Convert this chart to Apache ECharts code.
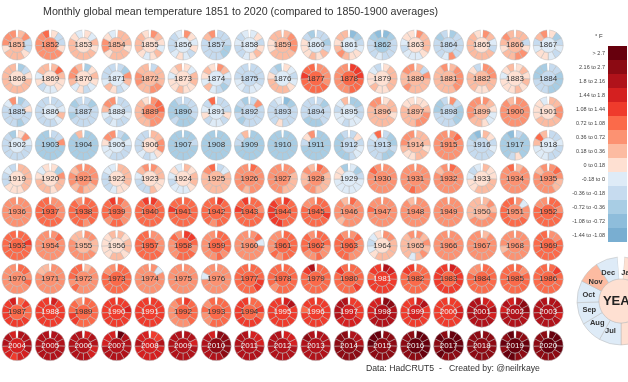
<!DOCTYPE html>
<html><head><meta charset="utf-8">
<script src="https://cdn.jsdelivr.net/npm/echarts@6/dist/echarts.min.js"></script>
<style>html,body{margin:0;padding:0;background:#fff}#c{width:628px;height:382px}</style>
</head><body><div id="c"></div>
<script>
const firstYear = 1851;
const monthNames = ['Jan','Feb','Mar','Apr','May','Jun','Jul','Aug','Sep','Oct','Nov','Dec'];
// bin lower edges (°F) and legend
const binEdges = [-1.44,-1.08,-0.72,-0.36,-0.18,0,0.18,0.36,0.72,1.08,1.44,1.8,2.16,2.7];
const binLabels = ['-1.44 to -1.08','-1.08 to -0.72','-0.72 to -0.36','-0.36 to -0.18','-0.18 to 0','0 to 0.18','0.18 to 0.36','0.36 to 0.72','0.72 to 1.08','1.08 to 1.44','1.44 to 1.8','1.8 to 2.16','2.16 to 2.7','> 2.7'];
const binColors = ['#79aed1','#8ebddb','#a8cde4','#c6dbef','#deebf7','#fee0d2','#fcbba1','#fc9272','#fb6a4a','#ef3b2c','#d42020','#b0121a','#8c0a13','#67000d'];

// monthly anomalies (°F vs 1850-1900), Jan..Dec, one row per year 1851..2020
const monthly = [
[0.3,0.6,-0.3,-0.2,0.1,0.2,0.2,0.3,0.1,0.5,0.5,0.4],
[0.1,-0.2,-0.3,0.1,0.5,0.6,0.6,0.6,0.5,0.4,0.5,1.0],
[0.1,-0.1,0.2,0.1,0.3,0.2,0.3,0.2,0.2,0.3,0.1,-0.1],
[0.2,0.3,0.2,0.1,0.3,0.2,0.2,0.1,0.5,0.4,0.1,-0.1],
[0.6,0.2,0.1,-0.1,0.2,0.1,-0.1,0.1,0.2,0.3,0.2,0.1],
[0.5,0.1,-0.1,0.1,-0.2,-0.1,0.1,-0.1,-0.3,-0.3,-0.2,-0.1],
[-0.3,-0.2,-0.3,-0.6,-0.6,-0.3,-0.3,-0.3,-0.3,-0.2,0.2,0.5],
[-0.1,0.1,-0.2,0.1,0.2,0.1,-0.1,-0.2,-0.2,-0.1,-0.2,-0.1],
[0.3,0.5,0.6,0.6,0.3,0.2,0.3,0.2,0.1,0.1,0.2,0.3],
[-0.3,-0.2,-0.6,-0.2,0.2,0.1,0.2,0.1,0.1,0.1,-0.3,-0.5],
[-0.8,-0.5,-0.2,-0.1,0.1,0.1,0.2,0.5,0.2,0.1,0.2,0.3],
[-0.8,-0.6,-0.3,-0.2,-0.3,-0.2,-0.1,-0.2,-0.3,-0.3,-0.5,-0.8],
[0.5,0.2,0.3,0.2,0.1,-0.1,-0.1,-0.1,-0.2,-0.1,0.1,0.1],
[-0.6,-0.3,-0.2,-0.3,-0.2,0.5,-0.1,-0.2,-0.3,-0.3,-0.5,-0.3],
[0.6,0.3,-0.1,-0.3,0.2,0.2,0.3,0.2,0.2,0.3,0.3,0.1],
[0.3,0.2,-0.3,0.1,0.5,0.5,0.2,0.2,0.1,0.2,0.6,0.3],
[0.1,-0.5,-0.3,-0.1,-0.2,-0.1,0.1,0.1,-0.1,-0.2,0.3,0.5],
[-0.6,-0.3,0.1,0.2,0.3,0.3,0.3,0.2,0.2,0.2,0.2,0.3],
[0.3,0.9,0.3,0.1,0.1,-0.1,-0.1,-0.2,0.1,-0.1,0.3,0.3],
[-0.5,0.1,0.2,0.1,-0.1,-0.2,0.1,-0.1,0.2,0.5,0.5,0.3],
[-0.3,-0.5,0.6,0.3,-0.1,-0.2,0.1,0.2,-0.1,-0.2,-0.3,-0.3],
[-0.3,0.2,0.3,0.3,0.5,0.6,0.2,0.3,0.5,0.4,0.2,0.2],
[0.1,-0.1,0.2,0.3,0.1,0.1,0.2,0.1,0.1,-0.1,0.1,0.2],
[0.5,0.2,-0.1,-0.2,-0.5,-0.3,-0.1,0.2,-0.1,0.1,0.2,0.1],
[-0.3,-0.3,-0.2,-0.2,-0.1,-0.1,-0.2,-0.1,-0.1,-0.2,-0.3,-0.3],
[0.1,-0.1,-0.2,-0.1,0.1,0.2,0.3,0.2,0.2,0.1,-0.3,-0.5],
[0.6,0.5,0.6,0.7,0.9,1.0,1.0,1.0,1.0,1.1,0.9,1.0],
[1.3,1.3,1.1,0.9,0.9,0.8,0.7,0.7,0.6,0.6,0.5,0.5],
[0.1,0.2,0.3,0.2,0.2,0.1,0.1,0.2,0.1,0.1,-0.1,-0.2],
[0.3,-0.2,0.6,0.3,0.3,0.2,0.3,0.4,0.3,0.3,0.5,0.5],
[0.3,0.4,0.6,0.7,0.6,0.3,0.3,0.3,0.2,0.3,0.2,0.4],
[0.7,0.6,0.4,0.2,0.2,0.1,0.1,0.3,0.2,0.2,0.1,-0.3],
[0.1,0.2,0.1,0.2,0.1,0.2,0.1,0.1,0.1,-0.1,0.1,0.2],
[-0.2,-0.3,-0.5,-0.5,-0.6,-0.5,-0.3,-0.3,-0.3,-0.4,-0.6,-0.5],
[-0.6,-0.3,0.1,-0.3,-0.3,-0.5,-0.3,-0.3,-0.3,-0.2,-0.1,0.6],
[-0.3,-0.2,-0.1,0.2,-0.1,-0.2,-0.3,-0.3,-0.2,-0.2,-0.3,-0.2],
[-0.3,-0.6,-0.3,-0.2,-0.2,-0.3,-0.3,-0.3,-0.4,-0.3,-0.5,-0.3],
[-0.2,-0.3,-0.3,-0.1,-0.2,-0.3,-0.1,-0.2,-0.1,0.2,0.5,0.5],
[0.5,1.0,0.8,0.7,0.6,0.4,0.2,0.3,0.2,0.3,0.2,0.1],
[-0.2,-0.3,-0.3,-0.3,-0.5,-0.5,-0.4,-0.3,-0.4,-0.6,-0.6,-0.3],
[-0.3,-0.3,-0.3,0.1,-0.2,-0.1,-0.1,-0.2,0.1,-0.1,-0.3,0.8],
[-0.3,0.5,-0.3,-0.2,-0.3,-0.3,-0.3,-0.4,-0.3,-0.4,-0.3,-0.6],
[-0.9,-0.6,-0.3,-0.3,-0.2,-0.3,0.1,-0.2,-0.3,-0.2,-0.2,-0.1],
[-0.3,-0.4,-0.3,-0.3,-0.3,-0.4,-0.4,-0.4,-0.3,-0.3,-0.3,-0.3],
[-0.5,-0.4,-0.2,-0.2,-0.1,-0.1,-0.2,-0.1,-0.1,-0.2,-0.1,0.2],
[0.1,0.2,0.2,0.1,0.2,0.2,0.2,0.3,0.3,0.3,0.5,0.6],
[0.1,0.1,0.2,0.5,0.7,0.5,0.3,0.2,0.2,0.2,0.1,0.1],
[0.6,-0.2,-0.6,-0.5,-0.4,-0.3,-0.3,-0.3,-0.3,-0.4,-0.5,-0.3],
[0.5,0.2,0.1,-0.1,-0.1,0.1,0.2,0.3,0.5,0.6,0.7,0.5],
[0.4,0.6,0.6,0.5,0.5,0.5,0.4,0.4,0.5,0.6,0.5,0.3],
[0.3,0.2,0.6,0.4,0.3,0.2,0.3,0.2,0.1,0.1,0.1,-0.1],
[0.1,0.5,-0.1,-0.2,-0.3,-0.2,-0.2,-0.3,-0.3,-0.2,-0.3,-0.5],
[-0.2,-0.3,0.5,-0.5,-0.6,-0.6,-0.5,-0.6,-0.6,-0.6,-0.7,-0.7],
[-0.6,-0.5,-0.6,-0.6,-0.6,-0.7,-0.7,-0.7,-0.6,-0.5,-0.5,0.2],
[-0.2,-0.5,-0.1,-0.3,-0.2,-0.3,-0.2,-0.1,-0.1,0.1,0.4,0.5],
[0.2,0.3,0.7,0.7,0.1,-0.1,-0.2,-0.1,-0.3,-0.3,-0.3,-0.2],
[-0.5,-0.6,-0.3,-0.5,-0.5,-0.4,-0.4,-0.5,-0.4,-0.5,-0.6,-0.4],
[-0.4,-0.5,-0.6,-0.5,-0.6,-0.5,-0.5,-0.5,-0.4,-0.5,-0.5,-0.5],
[-0.5,-0.4,-0.6,-0.6,-0.5,-0.5,-0.5,-0.4,-0.5,-0.3,-0.2,0.2],
[-0.4,-0.5,-0.5,-0.4,-0.5,-0.5,-0.5,-0.5,-0.5,-0.5,-0.6,-0.7],
[-0.6,-0.5,-0.6,-0.7,-0.6,-0.5,-0.5,-0.5,-0.4,-0.2,0.1,0.5],
[-0.3,0.1,-0.2,-0.1,-0.1,-0.3,-0.5,-0.6,-0.6,-0.6,-0.4,-0.3],
[-0.3,-0.4,-0.4,-0.2,-0.4,-0.4,-0.3,-0.3,-0.3,-0.3,-0.1,0.8],
[0.2,0.2,0.2,0.1,0.2,0.2,0.1,0.1,0.2,0.4,0.7,0.5],
[0.7,0.8,0.6,0.6,0.6,0.5,0.5,0.4,0.4,0.6,0.7,0.7],
[0.3,0.1,-0.2,-0.1,-0.3,-0.3,-0.3,-0.2,-0.2,-0.3,-0.5,-0.8],
[-0.3,-0.5,-0.6,-0.5,-0.4,0.1,-0.3,-0.4,-0.5,-0.6,-0.6,-0.9],
[-0.3,-0.2,-0.1,-0.3,-0.3,-0.2,-0.1,-0.1,-0.1,0.2,0.8,0.3],
[0.3,0.2,0.2,0.3,0.2,0.1,0.1,0.1,-0.2,-0.2,-0.1,-0.2],
[0.1,-0.4,0.6,0.2,0.2,0.1,0.2,0.2,0.2,0.1,-0.1,0.1],
[0.6,0.4,0.5,0.4,0.3,0.3,0.5,0.3,0.4,0.5,0.3,0.4],
[0.2,0.3,0.2,0.2,0.1,0.1,-0.1,-0.2,-0.3,-0.2,-0.1,-0.1],
[0.5,0.2,0.3,0.1,0.1,0.2,-0.2,-0.3,-0.3,-0.1,0.3,0.6],
[0.3,0.1,0.2,0.2,0.1,-0.1,-0.1,-0.1,-0.2,-0.1,0.1,-0.1],
[-0.2,-0.1,0.2,0.2,0.2,0.2,0.3,0.2,0.3,0.3,0.6,0.9],
[1.0,0.7,0.6,0.5,0.4,0.4,0.3,0.5,0.5,0.5,0.5,0.4],
[0.5,0.4,0.2,0.3,0.2,0.3,0.4,0.5,0.5,0.6,0.6,0.7],
[0.9,0.6,0.3,0.3,0.3,0.3,0.4,0.4,0.3,0.3,0.4,0.2],
[-0.1,-0.6,-0.2,-0.1,-0.1,-0.1,-0.1,-0.1,-0.1,0.1,0.1,-0.5],
[0.4,0.5,0.5,0.5,0.5,0.6,0.6,0.6,0.7,0.7,0.9,0.7],
[0.6,0.5,0.7,0.5,0.6,0.7,0.8,0.6,0.6,0.6,0.5,0.6],
[0.8,0.6,0.5,0.7,0.6,0.5,0.4,0.5,0.6,0.6,0.3,0.5],
[0.2,0.1,0.1,0.2,0.2,0.2,0.2,0.1,0.1,-0.1,-0.2,-0.1],
[0.3,0.6,0.4,0.6,0.6,0.5,0.4,0.5,0.5,0.5,0.6,0.9],
[0.6,0.8,0.4,0.2,0.3,0.4,0.4,0.4,0.4,0.5,0.3,0.6],
[0.5,0.4,0.5,0.5,0.5,0.6,0.6,0.6,0.7,0.7,0.6,0.6],
[0.6,0.7,0.5,0.7,0.8,0.8,0.9,0.9,1.0,1.0,0.9,0.8],
[0.9,0.9,1.0,1.0,0.8,0.7,0.8,0.8,0.8,0.9,0.9,0.7],
[0.8,0.7,0.6,0.7,0.7,0.8,0.8,0.7,0.8,1.0,0.8,1.3],
[1.2,1.0,1.0,0.9,0.9,0.9,1.0,1.0,1.0,1.0,1.0,1.3],
[1.0,1.0,0.8,0.8,0.9,1.0,1.0,0.9,0.8,1.1,0.9,1.0],
[1.3,1.0,0.9,0.9,0.8,0.8,0.7,0.8,0.8,0.8,0.9,0.9],
[0.8,0.9,0.7,0.9,0.9,0.8,0.9,0.8,0.9,1.1,1.0,1.1],
[1.1,1.0,1.0,1.0,1.0,1.0,1.1,1.2,1.2,1.3,1.1,1.0],
[0.8,0.9,0.9,1.3,1.0,0.9,0.8,1.0,1.0,0.9,0.5,0.5],
[0.8,0.7,0.6,0.6,0.5,0.4,0.5,0.3,0.4,0.5,0.4,0.2],
[0.4,0.5,0.6,0.7,0.6,0.7,0.6,0.7,0.6,0.8,0.7,0.6],
[0.6,0.5,0.5,0.6,0.7,0.6,0.6,0.6,0.6,0.6,0.5,0.3],
[0.7,0.7,0.6,0.6,0.6,0.5,0.5,0.6,0.5,0.6,0.6,0.5],
[0.3,0.4,0.3,0.4,0.5,0.5,0.4,0.4,0.3,0.3,0.2,0.3],
[0.5,-0.1,0.6,0.6,0.8,0.8,0.8,0.9,0.9,0.9,0.8,1.0],
[0.8,0.8,0.7,0.8,0.8,0.8,0.9,0.9,0.9,0.8,0.6,0.7],
[0.8,1.0,1.2,1.0,1.0,0.9,0.9,0.9,0.9,0.9,0.8,0.9],
[0.6,0.8,0.5,0.4,0.4,0.4,0.4,0.4,0.5,0.6,0.6,0.5],
[0.6,0.4,0.3,0.3,0.4,0.4,0.4,0.4,0.4,0.4,0.2,0.2],
[0.2,0.1,0.3,0.2,0.1,0.2,0.2,0.1,0.1,0.1,0.1,0.3],
[0.4,0.6,0.6,0.7,0.8,0.8,0.9,0.9,0.9,0.8,0.8,1.0],
[1.3,1.1,0.8,0.7,0.9,0.8,0.8,0.7,0.7,0.7,0.8,0.7],
[0.8,0.8,0.9,0.8,0.7,0.8,0.7,0.7,0.7,0.7,0.6,0.7],
[0.6,0.9,-0.1,0.6,0.6,0.7,0.6,0.7,0.7,0.5,0.5,0.7],
[0.8,0.9,0.8,0.8,0.8,0.8,0.7,0.8,0.7,0.7,0.6,0.6],
[0.8,0.9,0.8,0.7,0.7,0.8,0.7,0.7,0.8,0.8,0.8,0.7],
[0.6,0.9,0.4,0.6,0.7,0.7,0.9,0.9,0.9,0.9,0.9,0.7],
[0.6,0.4,0.3,0.3,0.3,0.3,0.2,0.1,-0.1,-0.3,-0.1,0.1],
[0.4,0.3,0.4,0.3,0.4,0.2,-0.1,0.2,0.2,0.3,0.3,0.4],
[0.5,0.4,0.5,0.5,0.4,0.5,0.5,0.4,0.5,0.4,0.5,0.6],
[0.2,0.5,0.6,0.6,0.6,0.6,0.6,0.6,0.6,0.6,0.6,0.6],
[0.5,0.6,0.6,0.6,0.4,0.4,0.4,0.4,0.3,0.5,0.5,0.5],
[0.6,0.7,0.8,0.8,0.9,0.9,0.8,0.8,0.8,0.8,0.9,0.8],
[0.9,0.9,0.7,0.8,0.7,0.7,0.7,0.4,0.7,0.6,0.7,0.6],
[0.5,0.4,0.4,0.4,0.5,0.4,0.4,0.4,0.4,0.4,0.3,0.3],
[0.3,0.4,0.6,0.6,0.7,0.7,0.7,0.8,0.7,0.8,0.9,1.0],
[1.0,1.0,1.0,1.0,1.0,0.9,0.9,0.9,0.8,0.8,0.7,0.7],
[0.5,-0.1,0.5,0.6,0.6,0.6,0.6,0.6,0.5,0.5,0.5,0.5],
[0.6,0.6,0.7,0.6,0.6,0.6,0.6,0.5,0.5,0.5,0.4,0.5],
[0.5,0.6,0.5,0.6,0.5,0.5,0.5,0.5,0.4,-0.1,0.4,0.6],
[0.8,0.9,1.0,1.2,1.2,1.0,1.0,0.9,0.9,0.9,0.9,0.9],
[0.9,0.9,0.9,0.9,0.9,0.8,0.8,0.5,0.8,0.9,0.9,0.9],
[0.8,0.8,0.9,0.9,0.9,1.0,0.9,1.0,1.0,1.0,1.1,1.8],
[1.0,1.0,1.0,1.0,1.2,1.0,1.0,1.0,0.9,0.9,1.2,1.0],
[1.8,1.5,1.3,1.2,1.1,1.2,1.2,1.2,1.1,1.0,1.1,1.2],
[1.0,0.9,0.8,0.9,1.0,0.9,0.9,0.9,1.0,1.0,1.1,1.3],
[1.5,1.4,1.4,1.2,1.2,1.2,1.2,1.3,1.3,1.2,1.2,1.1],
[1.0,0.9,1.0,0.9,1.0,0.8,0.9,0.9,0.9,0.9,0.7,0.6],
[0.9,0.7,0.9,0.9,0.9,0.9,0.9,0.9,0.9,0.9,0.9,0.9],
[1.0,1.1,1.0,1.0,1.0,1.0,0.9,1.0,0.9,1.0,1.0,1.0],
[0.9,1.1,0.9,1.0,1.1,1.1,1.2,1.2,1.2,1.2,1.3,1.5],
[1.6,1.4,1.4,1.3,1.2,1.2,1.3,1.3,1.2,1.2,1.2,1.2],
[0.8,0.9,1.0,1.0,0.9,0.9,1.0,1.1,1.1,1.0,1.0,0.6],
[1.2,1.2,1.7,1.3,1.3,1.3,1.3,1.2,1.2,1.4,1.4,1.3],
[1.3,1.4,1.2,1.4,1.3,1.4,1.4,1.3,1.3,1.1,1.1,1.1],
[1.1,1.0,0.9,0.8,0.8,0.6,0.5,0.5,0.5,0.6,0.6,0.8],
[1.0,0.9,0.9,0.9,0.9,0.8,0.8,0.7,0.7,0.8,0.7,0.8],
[1.0,0.8,1.1,1.0,1.1,1.1,1.1,1.1,1.1,1.2,1.2,1.1],
[1.5,1.8,1.3,1.3,1.2,1.3,1.4,1.4,1.2,1.4,1.4,1.1],
[1.2,1.3,1.2,1.2,1.2,1.1,1.2,1.1,1.1,1.0,1.1,1.2],
[1.1,1.3,1.4,1.3,1.5,1.6,1.6,1.7,1.8,1.8,1.8,1.8],
[2.2,2.6,2.1,2.0,2.0,2.0,2.0,1.9,1.7,1.7,1.5,1.6],
[1.5,1.8,1.4,1.4,1.4,1.4,1.4,1.4,1.4,1.4,1.4,1.4],
[1.2,1.4,1.5,1.6,1.4,1.4,1.4,1.4,1.4,1.3,1.3,1.2],
[1.5,1.6,1.8,1.7,1.8,1.8,1.9,1.9,1.8,1.8,2.0,1.8],
[2.1,2.2,2.4,1.9,1.9,1.9,1.9,1.8,1.8,1.7,1.8,1.6],
[2.0,1.8,1.8,1.7,1.8,1.8,1.8,1.8,1.9,2.1,1.9,2.0],
[1.8,1.9,1.8,1.8,1.5,1.5,1.4,1.5,1.6,1.8,1.9,1.7],
[2.0,1.8,2.0,2.0,1.9,2.0,2.0,1.9,2.0,2.0,2.0,1.9],
[1.7,1.9,1.8,1.7,1.7,1.9,1.9,1.9,1.9,2.0,1.9,2.1],
[2.8,2.0,2.0,2.0,1.9,1.8,1.8,1.8,1.8,1.7,1.7,1.6],
[1.3,1.4,1.9,1.6,1.6,1.6,1.7,1.7,1.7,1.8,1.7,1.6],
[1.8,1.8,1.7,1.8,1.9,2.0,2.0,2.1,2.1,2.0,2.0,2.0],
[2.3,2.4,2.6,2.4,2.3,2.1,2.1,2.1,2.0,2.0,2.1,1.7],
[1.6,1.6,1.7,1.8,1.8,1.9,2.0,1.9,1.9,1.9,1.8,1.9],
[1.7,1.7,1.7,1.9,2.1,2.1,2.0,2.1,2.1,2.1,2.1,1.8],
[2.0,2.0,2.0,1.9,1.9,2.0,2.0,2.1,2.1,2.0,2.2,2.1],
[2.1,1.9,2.1,2.3,2.3,2.3,2.2,2.4,2.3,2.3,2.2,2.3],
[2.2,2.3,2.4,2.3,2.4,2.4,2.4,2.5,2.6,2.8,2.9,3.0],
[3.0,3.2,3.1,2.9,2.7,2.6,2.5,2.6,2.5,2.5,2.4,2.4],
[2.7,2.9,3.0,2.8,2.6,2.5,2.6,2.7,2.5,2.6,2.7,2.6],
[2.3,2.3,2.4,2.4,2.3,2.3,2.4,2.4,2.3,2.5,2.3,2.4],
[2.5,2.5,2.8,2.7,2.5,2.6,2.7,2.7,2.6,2.7,2.6,2.8],
[2.9,3.0,2.9,2.8,2.6,2.5,2.5,2.4,2.5,2.4,2.5,2.2]
];
// annual anomalies (°F), 1851..2020
const annual = [
0.2,0.4,0.15,0.2,0.15,-0.05,-0.25,-0.05,0.25,-0.05,-0.05,-0.4,0.1,-0.25,0.15,0.2,-0.05,
0.15,0.1,0.05,-0.05,0.25,0.1,-0.05,-0.2,-0.05,0.85,0.85,0.1,0.3,0.35,0.2,0.1,-0.35,
-0.25,-0.15,-0.3,-0.05,0.4,-0.4,-0.1,-0.3,-0.3,-0.35,-0.15,0.2,0.2,-0.3,0.2,0.5,0.15,
-0.15,-0.5,-0.55,-0.1,0.05,-0.45,-0.5,-0.45,-0.5,-0.45,-0.3,-0.3,0.2,0.5,-0.2,-0.45,-0.1,
0.1,0.1,0.4,0.05,0.1,0.05,0.25,0.55,0.4,0.4,-0.1,0.6,0.6,0.55,0.1,0.5,0.4,
0.55,0.8,0.85,0.8,0.95,0.95,0.85,0.9,0.95,0.85,0.5,0.6,0.55,0.6,0.35,0.7,0.8,
0.95,0.5,0.35,0.15,0.8,0.85,0.75,0.6,0.75,0.75,0.75,0.15,0.3,0.5,0.55,0.5,0.8,
0.7,0.45,0.7,0.9,0.5,0.55,0.5,1.0,0.85,1.0,1.05,1.2,0.95,1.05,0.9,0.9,1.0,
1.05,1.3,1.0,1.3,1.25,0.75,0.85,1.05,1.35,1.15,1.55,1.95,1.45,1.35,1.8,1.9,1.9,
1.7,1.98,1.85,1.9,1.65,1.95,2.2,1.85,1.95,2.05,2.2,2.5,2.75,2.72,2.4,2.75,2.72
];
// example key
const keyMonthly = [0.1,0.1,0.1,0.1,0.1,0.1,-0.1,-0.1,-0.1,-0.1,0.3,-0.1];
const keyAnnual = 0.1;

function colorFor(v) {
  let idx = 0;
  for (let i = 0; i < binEdges.length; i++) if (v >= binEdges[i] - 1e-9) idx = i;
  return binColors[idx];
}

const FONT = '"Liberation Sans", Arial, sans-serif';
const cols = 17, x0 = 17, y0 = 45, dx = 33.2, dy = 33.4;
const rIn = 7.5, rOut = 15;
const gapSize = 0.3;
const gapDeg = gapSize / (12 + gapSize) * 360;
const edge = {borderColor: 'rgba(185,185,185,0.85)', borderWidth: 0.6};

function ringData(vals) {
  const d = vals.map((v, m) => ({
    name: monthNames[m], value: 1,
    itemStyle: Object.assign({color: colorFor(v)}, edge)
  }));
  d.push({name: '', value: gapSize, itemStyle: {color: '#ffffff', borderWidth: 0}});
  return d;
}

const series = [];
monthly.forEach((vals, i) => {
  const cx = x0 + (i % cols) * dx;
  const cy = y0 + Math.floor(i / cols) * dy;
  const year = firstYear + i;
  series.push({
    type: 'pie', silent: true, animation: false, center: [cx, cy], radius: [rIn, rOut],
    startAngle: 90 - gapDeg / 2, clockwise: true,
    label: {show: false}, labelLine: {show: false}, emphasis: {disabled: true},
    data: ringData(vals)
  });
  series.push({
    type: 'pie', silent: true, animation: false, center: [cx, cy], radius: [0, rIn],
    labelLine: {show: false}, emphasis: {disabled: true},
    label: {show: true, position: 'center', formatter: String(year), fontSize: 8,
            fontFamily: FONT, color: annual[i] >= 1.08 ? '#f2f2f2' : '#333'},
    data: [{name: String(year), value: 1, itemStyle: Object.assign({color: colorFor(annual[i])}, edge)}]
  });
});
// key donut
const kc = [621, 301];
series.push({
  type: 'pie', silent: true, animation: false, center: kc, radius: [22, 44],
  startAngle: 90 - gapDeg / 2, clockwise: true, labelLine: {show: false}, emphasis: {disabled: true},
  label: {show: false},
  data: ringData(keyMonthly)
});
// month names of the key (label layer, transparent wedges)
series.push({
  type: 'pie', silent: true, animation: false, center: [kc[0], kc[1] + 0.5], radius: [14, 40],
  startAngle: 90 - gapDeg / 2, clockwise: true, labelLine: {show: false}, emphasis: {disabled: true},
  label: {show: true, position: 'inside', formatter: '{b}', fontSize: 7.5, fontWeight: 'bold',
          color: '#333', fontFamily: FONT, padding: [0, 6, 0, 0]},
  itemStyle: {color: 'rgba(0,0,0,0)', borderWidth: 0},
  data: monthNames.map(n => ({name: n, value: 1})).concat([{name: '', value: gapSize, label: {show: false}}])
});
series.push({
  type: 'pie', silent: true, animation: false, center: kc, radius: [0, 22],
  labelLine: {show: false}, emphasis: {disabled: true},
  label: {show: true, position: 'center', formatter: 'YEAR', fontSize: 13, fontWeight: 'bold', color: '#222', fontFamily: FONT},
  data: [{name: 'YEAR', value: 1, itemStyle: Object.assign({color: colorFor(keyAnnual)}, edge)}]
});

const pieces = binEdges.map((lo, i) => {
  const p = {min: lo, label: binLabels[i], color: binColors[i]};
  if (i < binEdges.length - 1) p.max = binEdges[i + 1];
  return p;
});

const chart = echarts.init(document.getElementById('c'), null, {renderer: 'canvas'});
chart.setOption({
  backgroundColor: '#fff',
  animation: false,
  title: [
    {text: 'Monthly global mean temperature 1851 to 2020 (compared to 1850-1900 averages)',
     left: 43, top: 7, padding: 0,
     textStyle: {fontSize: 10.7, fontWeight: 'normal', color: '#333', fontFamily: FONT}},
    {text: 'Data: HadCRUT5  -   Created by: @neilrkaye', left: 366, top: 364, padding: 0,
     textStyle: {fontSize: 8.7, fontWeight: 'normal', color: '#333', fontFamily: FONT}},
    {text: '° F', left: 595, top: 33, padding: 0,
     textStyle: {fontSize: 6, fontWeight: 'normal', color: '#333', fontFamily: FONT}}
  ],
  visualMap: [{
    type: 'piecewise', seriesIndex: [], orient: 'vertical', right: 1, top: 46, padding: 0,
    itemWidth: 19, itemHeight: 14, itemGap: 0, itemSymbol: 'rect', align: 'right', textGap: 3,
    selectedMode: false, showLabel: true,
    textStyle: {fontSize: 5.5, color: '#444', fontFamily: FONT},
    pieces: pieces
  }],
  series: series
});
</script></body></html>
